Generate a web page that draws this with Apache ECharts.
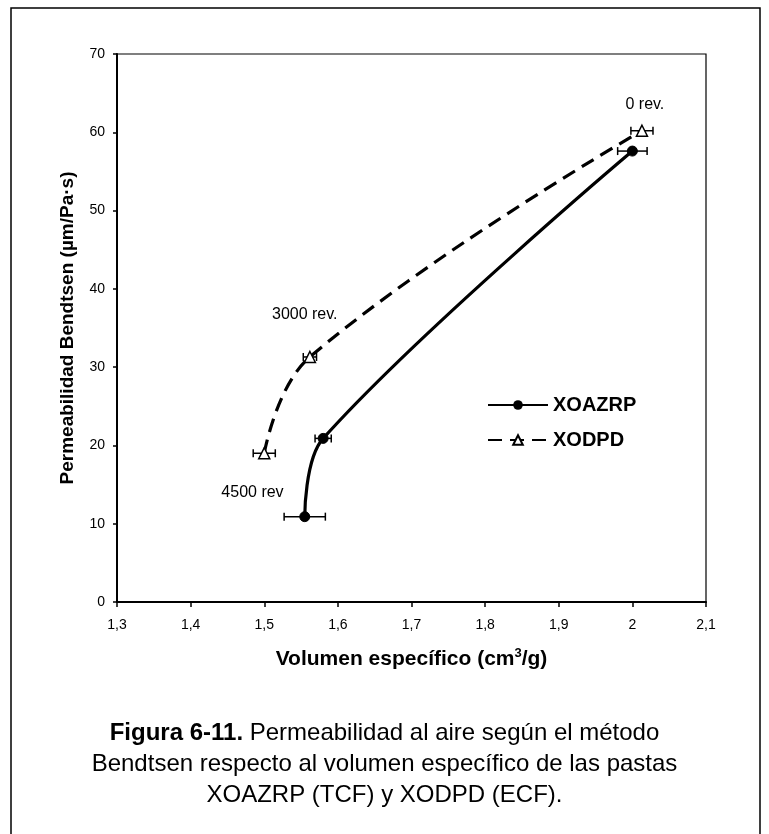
<!DOCTYPE html>
<html><head><meta charset="utf-8">
<script src="https://cdn.jsdelivr.net/npm/echarts@6/dist/echarts.min.js"></script>
<style>html,body{margin:0;padding:0;background:#fff}#c{width:769px;height:834px}</style>
</head><body><div id="c"></div>
<script>
// ---- data ----
const seriesNames = ['XOAZRP', 'XODPD'];
const xoazrpX = [1.555, 1.58, 2.0];
const xoazrpY = [10.9, 20.9, 57.6];
const xoazrpErr = [0.028, 0.011, 0.02];
const xodpdX = [1.50, 1.562, 2.013];
const xodpdY = [19.0, 31.3, 60.2];
const xodpdErr = [0.015, 0.009, 0.015];
const annoText = ['0 rev.', '3000 rev.', '4500 rev'];
const annoX = [2.017, 1.555, 1.484];
const annoY = [63.6, 36.7, 14.0];
const xMin = 1.3, xMax = 2.1, xStep = 0.1;
const yMin = 0, yMax = 70, yStep = 10;
const xTitle = 'Volumen específico (cm{sup|3}/g)';
const yTitle = 'Permeabilidad Bendtsen (µm/Pa·s)';
const captionLines = [
  ['Figura 6-11.', ' Permeabilidad al aire según el método'],
  ['', 'Bendtsen respecto al volumen específico de las pastas'],
  ['', 'XOAZRP (TCF) y XODPD (ECF).']
];

const FONT = '"Liberation Sans", Arial, sans-serif';
const pts = (xs, ys) => xs.map((x, i) => [x, ys[i]]);
const errData = (xs, ys, es) => xs.map((x, i) => [x, ys[i], es[i]]);

function errRender(params, api) {
  const x = api.value(0), y = api.value(1), e = api.value(2);
  const a = api.coord([x - e, y]);
  const b = api.coord([x + e, y]);
  const h = 4;
  const st = { stroke: '#000', lineWidth: 1.5 };
  return {
    type: 'group',
    children: [
      { type: 'line', shape: { x1: a[0], y1: a[1], x2: b[0], y2: b[1] }, style: st },
      { type: 'line', shape: { x1: a[0], y1: a[1] - h, x2: a[0], y2: a[1] + h }, style: st },
      { type: 'line', shape: { x1: b[0], y1: b[1] - h, x2: b[0], y2: b[1] + h }, style: st }
    ]
  };
}
function annoRender(params, api) {
  const p = api.coord([api.value(0), api.value(1)]);
  return {
    type: 'text', x: p[0], y: p[1],
    style: { text: annoText[params.dataIndex], fill: '#000', font: '16px ' + FONT, align: 'center', verticalAlign: 'middle' }
  };
}

const fmt = v => String(+(+v).toFixed(1)).replace('.', ',');

const chart = echarts.init(document.getElementById('c'), null, { renderer: 'canvas' });

const graphics = [
  { type: 'rect', shape: { x: 11, y: 8, width: 749, height: 840 }, style: { fill: 'none', stroke: '#000', lineWidth: 1.5 }, silent: true }
];
const capCenters = [733, 764, 795];
captionLines.forEach((ln, i) => {
  graphics.push({
    type: 'text', left: 'center', top: capCenters[i] - 12,
    style: {
      text: (ln[0] ? '{b|' + ln[0] + '}' : '') + '{n|' + ln[1] + '}',
      rich: {
        b: { fontFamily: FONT, fontSize: 24, lineHeight: 24, fontWeight: 'bold', fill: '#000' },
        n: { fontFamily: FONT, fontSize: 24, lineHeight: 24, fill: '#000' }
      }
    }
  });
});

chart.setOption({
  animation: false,
  backgroundColor: '#fff',
  textStyle: { fontFamily: FONT, color: '#000' },
  grid: { left: 117, top: 54, width: 589, height: 548, show: true, borderColor: '#000', borderWidth: 1.2, backgroundColor: 'transparent' },
  xAxis: {
    type: 'value', min: xMin, max: xMax, interval: xStep,
    axisLine: { show: true, lineStyle: { color: '#000', width: 2 } },
    axisTick: { show: true, inside: false, length: 5, lineStyle: { color: '#000', width: 1.5 } },
    axisLabel: { formatter: fmt, fontSize: 14, color: '#000', margin: 16, fontFamily: FONT },
    splitLine: { show: false },
    name: xTitle, nameLocation: 'middle', nameGap: 45,
    nameTextStyle: {
      fontFamily: FONT, fontSize: 21, fontWeight: 'bold', color: '#000',
      rich: { sup: { fontFamily: FONT, fontSize: 13, fontWeight: 'bold', verticalAlign: 'top', padding: [0, 0, 12, 0] } }
    }
  },
  yAxis: {
    type: 'value', min: yMin, max: yMax, interval: yStep,
    axisLine: { show: true, lineStyle: { color: '#000', width: 2 } },
    axisTick: { show: true, inside: false, length: 4, lineStyle: { color: '#000', width: 1.5 } },
    axisLabel: { fontSize: 14, color: '#000', margin: 12, fontFamily: FONT },
    splitLine: { show: false },
    name: yTitle, nameLocation: 'middle', nameGap: 40,
    nameTextStyle: { fontFamily: FONT, fontSize: 19, fontWeight: 'bold', color: '#000' }
  },
  legend: {
    data: seriesNames, orient: 'vertical', left: 482, top: 390,
    itemWidth: 60, itemHeight: 12, itemGap: 15, itemStyle: {},
    textStyle: { fontFamily: FONT, fontSize: 20, fontWeight: 'bold', color: '#000' }
  },
  graphic: graphics,
  series: [
    { name: 'errA', type: 'custom', renderItem: errRender, data: errData(xoazrpX, xoazrpY, xoazrpErr), z: 2, silent: true },
    { name: 'errB', type: 'custom', renderItem: errRender, data: errData(xodpdX, xodpdY, xodpdErr), z: 2, silent: true },
    {
      name: seriesNames[0], type: 'line', data: pts(xoazrpX, xoazrpY), smooth: 0.35,
      symbol: 'circle', symbolSize: 10,
      lineStyle: { color: '#000', width: 3.2 },
      itemStyle: { color: '#000', borderColor: '#000' }, z: 3
    },
    {
      name: seriesNames[1], type: 'line', data: pts(xodpdX, xodpdY), smooth: 0.42,
      symbol: 'triangle', symbolSize: 11, showAllSymbol: true,
      lineStyle: { color: '#000', width: 3.2, type: [14, 8] },
      itemStyle: { color: '#fff', borderColor: '#000', borderWidth: 1.5 }, z: 3
    },
    {
      name: 'anno', type: 'custom', renderItem: annoRender, silent: true, z: 4,
      data: annoX.map((x, i) => [x, annoY[i]])
    }
  ]
});
</script></body></html>
